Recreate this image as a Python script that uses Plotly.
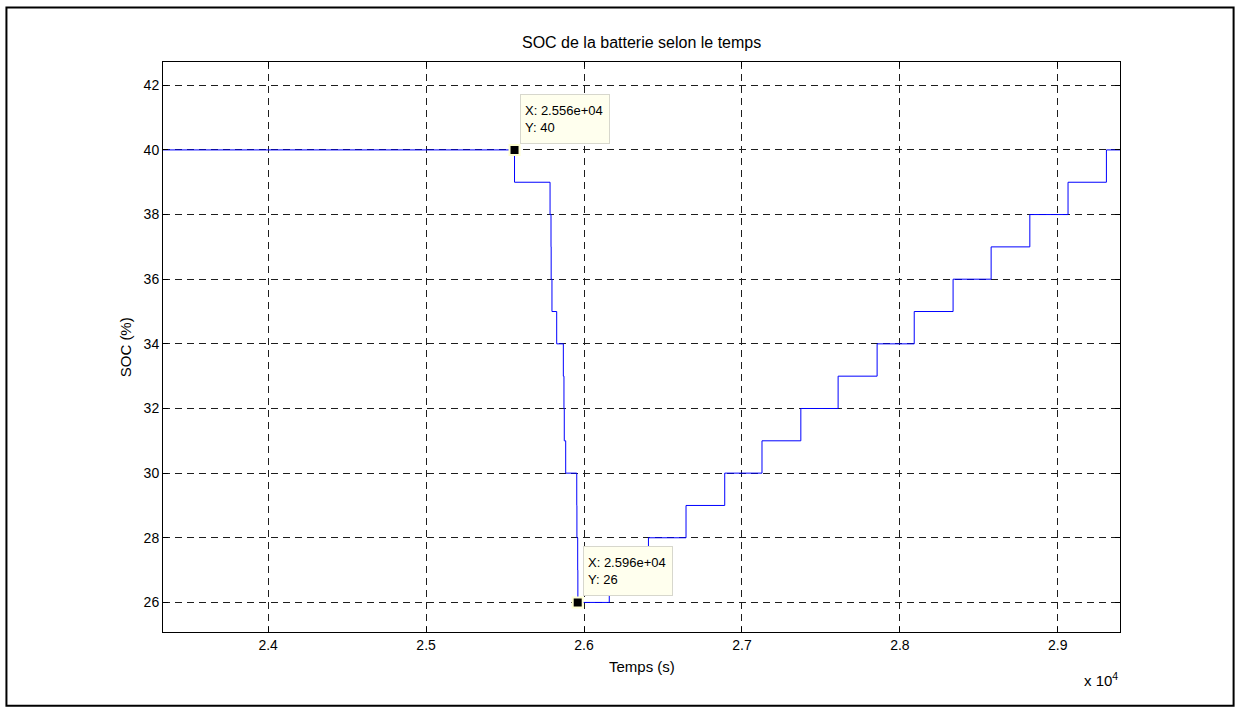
import plotly.graph_objects as go

# Data (time in s, SOC in %), step changes
time_s = [23334, 25560, 25785, 25791, 25792, 25797, 25827, 25869, 25873, 25875,
          25884, 25954, 25955, 25960, 25961, 26160, 26408, 26646, 26891, 27127,
          27373, 27609, 27856, 28091, 28337, 28578, 28823, 29065, 29308, 29394]
soc = [40, 39, 38, 37, 36, 35, 34, 33, 32, 31,
       30, 29, 28, 27, 26, 27, 28, 29, 30, 31,
       32, 33, 34, 35, 36, 37, 38, 39, 40, 40]

marker_t = [25560, 25960]
marker_soc = [40, 26]
marker_labels = ["X: 2.556e+04<br>Y: 40", "X: 2.596e+04<br>Y: 26"]

x_tickvals = [24000, 25000, 26000, 27000, 28000, 29000]
x_ticktext = ["2.4", "2.5", "2.6", "2.7", "2.8", "2.9"]
y_tickvals = [26, 28, 30, 32, 34, 36, 38, 40, 42]

FONT = "Liberation Sans, Arial, sans-serif"

fig = go.Figure()
fig.add_trace(go.Scatter(x=time_s, y=soc, mode="lines", line_shape="hv",
                         line=dict(color="rgb(0,0,255)", width=1),
                         showlegend=False, hoverinfo="skip"))
fig.add_trace(go.Scatter(x=marker_t, y=marker_soc, mode="markers",
                         marker=dict(symbol="square", size=10, color="black",
                                     line=dict(color="rgb(255,255,210)", width=2)),
                         showlegend=False, hoverinfo="skip"))

for t, s, lab in zip(marker_t, marker_soc, marker_labels):
    fig.add_annotation(x=t, y=s, text=lab, showarrow=False, xanchor="left", yanchor="bottom",
                       xshift=5, yshift=6, align="left", valign="middle",
                       width=80, height=40,
                       font=dict(family=FONT, size=13, color="black"),
                       bgcolor="rgb(255,255,238)", bordercolor="rgb(215,215,205)",
                       borderwidth=1, borderpad=4)

grid = dict(showgrid=True, gridcolor="rgb(30,30,30)", gridwidth=1, griddash="7px,5px")

fig.update_xaxes(range=[23334, 29394], tickvals=x_tickvals, ticktext=x_ticktext,
                 ticks="inside", ticklen=5, tickcolor="black", mirror="ticks",
                 showline=True, linecolor="black", linewidth=1, zeroline=False,
                 tickfont=dict(family=FONT, size=14, color="black"), **grid)
fig.update_yaxes(range=[25.085, 42.72], tickvals=y_tickvals,
                 ticks="inside", ticklen=5, tickcolor="black", mirror="ticks",
                 showline=True, linecolor="black", linewidth=1, zeroline=False,
                 tickfont=dict(family=FONT, size=14, color="black"), **grid)

fig.add_annotation(text="SOC de la batterie selon le temps", xref="paper", yref="paper",
                   x=0.5, y=1.035, showarrow=False, yanchor="middle",
                   font=dict(family=FONT, size=16, color="black"))
fig.add_annotation(text="Temps (s)", xref="paper", yref="paper",
                   x=0.5, y=-0.061, showarrow=False, yanchor="middle",
                   font=dict(family=FONT, size=15, color="black"))
fig.add_annotation(text="SOC (%)", xref="paper", yref="paper", textangle=-90,
                   x=-0.0394, y=0.5, showarrow=False, xanchor="center", yanchor="middle",
                   font=dict(family=FONT, size=15, color="black"))
fig.add_annotation(text="x 10<sup>4</sup>", xref="paper", yref="paper",
                   x=1.0, y=-0.083, showarrow=False, xanchor="right", yanchor="middle",
                   font=dict(family=FONT, size=15, color="black"))

# Figure frame
fig.add_shape(type="rect", xref="paper", yref="paper",
              x0=-0.1636, x1=1.1187, y0=-0.1292, y1=1.0958,
              line=dict(color="black", width=2), fillcolor="rgba(0,0,0,0)")

fig.update_layout(width=1239, height=713, autosize=False,
                  margin=dict(l=162.7, r=118.7, t=61.7, b=80.7),
                  paper_bgcolor="white", plot_bgcolor="white",
                  font=dict(family=FONT, color="black"))

fig.write_html("out.html")
